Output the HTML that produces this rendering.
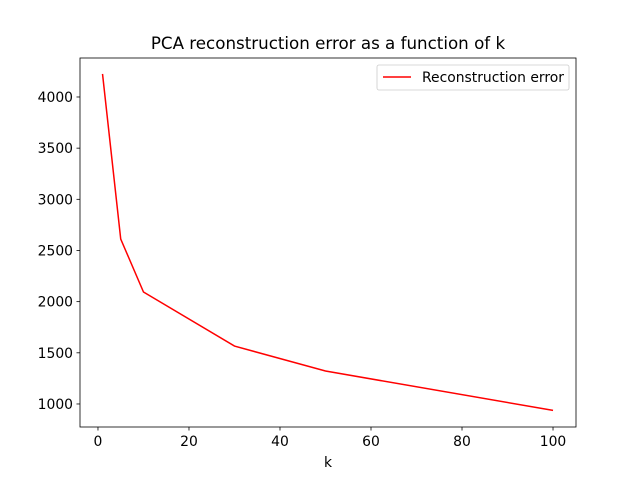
<!DOCTYPE html>
<html><head><meta charset="utf-8"><style>body{margin:0;background:#fff}svg{font-family:"DejaVu Sans","Liberation Sans",sans-serif}</style></head>
<body>
<svg id="c" width="640" height="480" xmlns="http://www.w3.org/2000/svg"></svg>
<script>
const ks=[1,5,10,30,50,100];
const errs=[4225,2612,2094,1566,1322,937];
const xTicks=[0,20,40,60,80,100];
const yTicks=[1000,1500,2000,2500,3000,3500,4000];
const L=80,R=576,T=58,B=427,xmin=-3.95,xmax=105.05,ymin=775,ymax=4381;
const X=v=>L+(v-xmin)/(xmax-xmin)*(R-L);
const Y=v=>B-(v-ymin)/(ymax-ymin)*(B-T);
const s=document.getElementById('c');const NS='http://www.w3.org/2000/svg';
function el(t,a,p){const e=document.createElementNS(NS,t);for(const k in a)e.setAttribute(k,a[k]);(p||s).appendChild(e);return e;}
let r=el('rect',{x:L,y:T,width:R-L,height:B-T,fill:'none',stroke:'#000','stroke-width':0.8});


xTicks.forEach(v=>{const g=el('g',{});


el('line',{x1:X(v),x2:X(v),y1:B,y2:B+3.5,stroke:'#000','stroke-width':0.8},g);
const t=el('text',{x:X(v),y:B+19,'font-size':13.9,'text-anchor':'middle'},g);t.textContent=v;});
yTicks.forEach(v=>{const g=el('g',{});


el('line',{x1:L-3.5,x2:L,y1:Y(v),y2:Y(v),stroke:'#000','stroke-width':0.8},g);
const t=el('text',{x:L-7,y:Y(v)+5,'font-size':13.9,'text-anchor':'end'},g);t.textContent=v;});
const p=el('polyline',{points:ks.map((k,i)=>X(k)+','+Y(errs[i])).join(' '),fill:'none',stroke:'#f00','stroke-width':1.5});


const xt=el('text',{x:(L+R)/2,y:467,'font-size':13.9,'text-anchor':'middle'});xt.textContent='k';


const ti=el('text',{x:(L+R)/2,y:49,'font-size':16.7,'text-anchor':'middle'});ti.textContent='PCA reconstruction error as a function of k';


const lg=el('g',{});


el('rect',{x:377,y:65,width:192,height:25,rx:2,fill:'#fff',stroke:'#ccc','stroke-width':0.8},lg);
el('line',{x1:383,x2:411,y1:77,y2:77,stroke:'#f00','stroke-width':1.5},lg);
const lt=el('text',{x:422,y:82,'font-size':13.9},lg);lt.textContent='Reconstruction error';
</script>
</body></html>
